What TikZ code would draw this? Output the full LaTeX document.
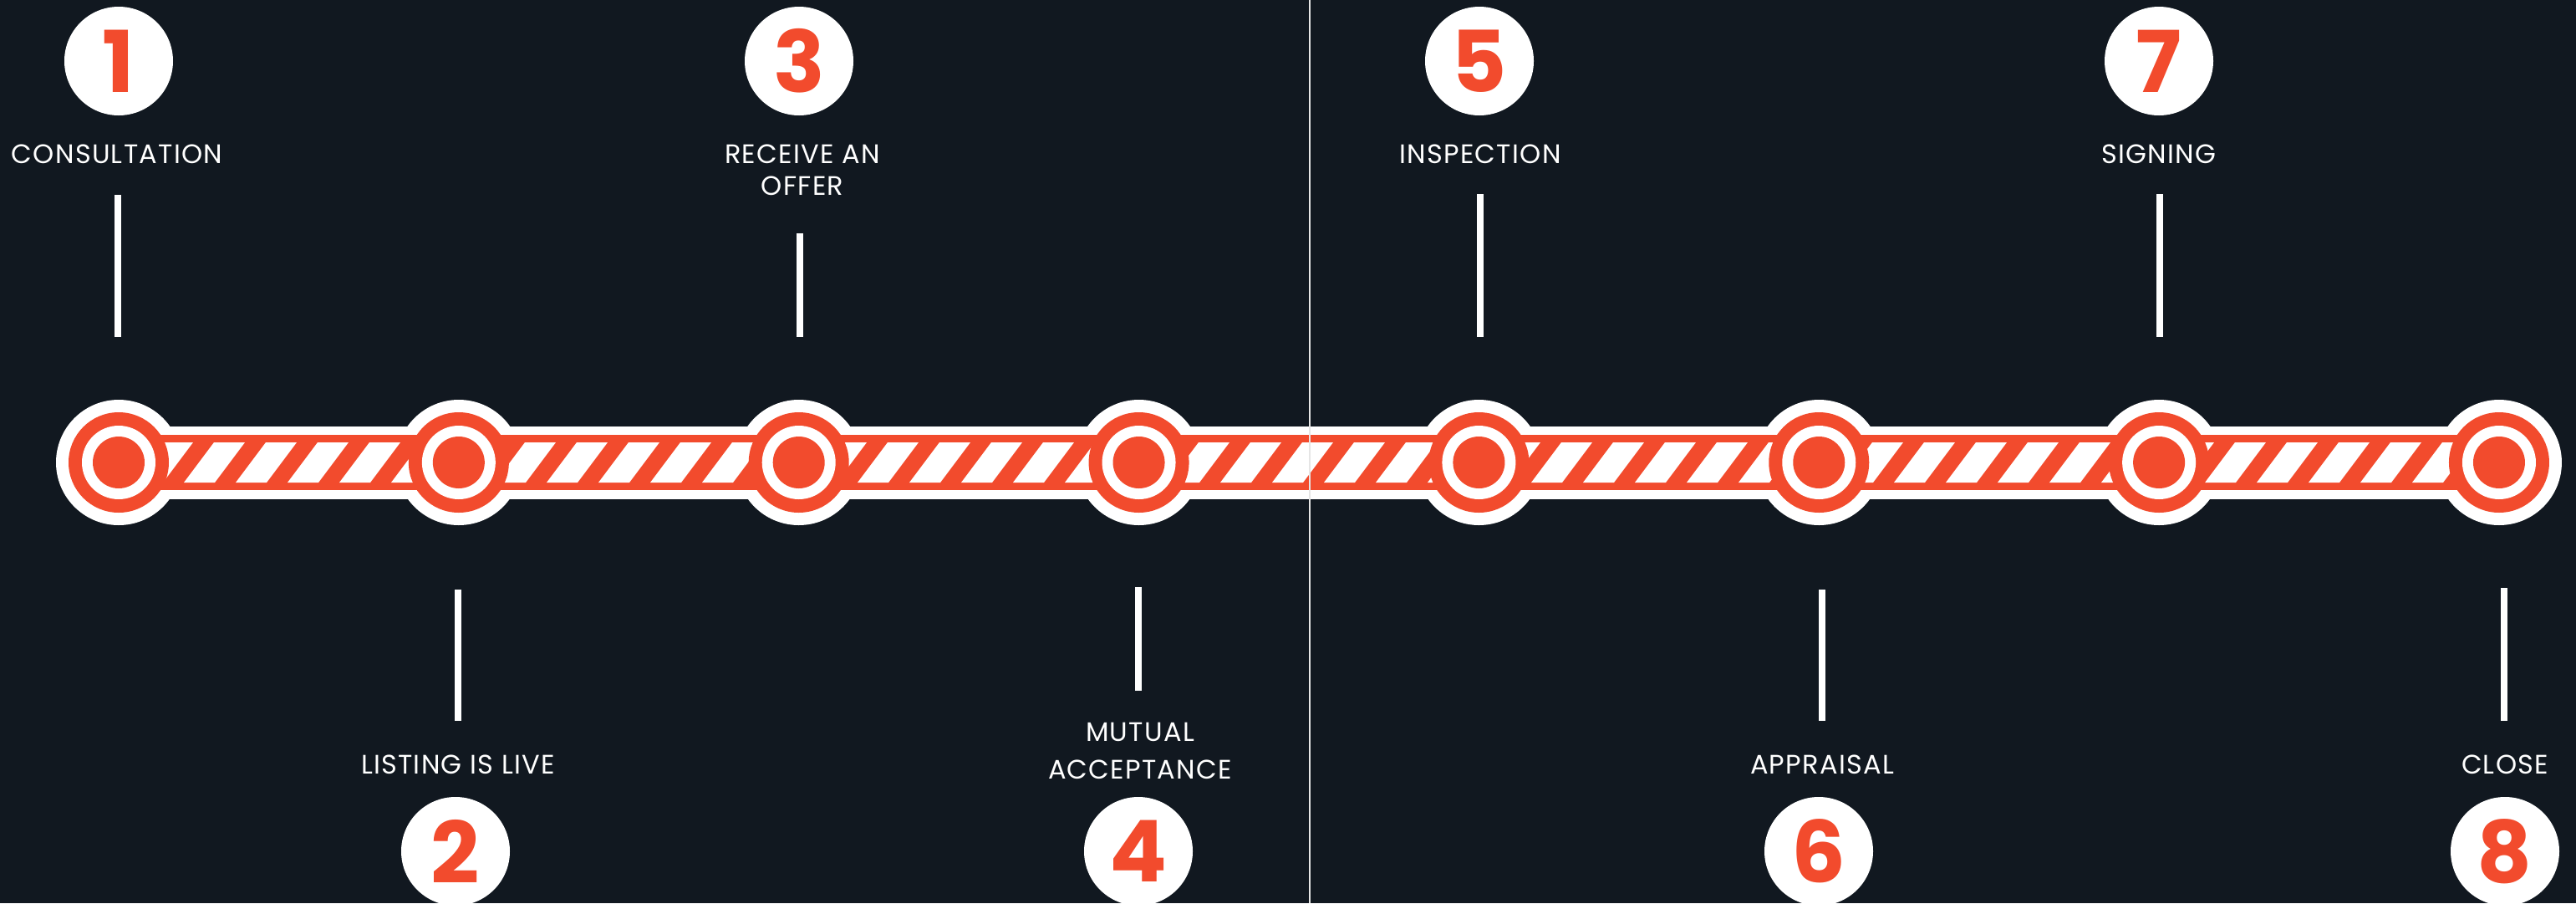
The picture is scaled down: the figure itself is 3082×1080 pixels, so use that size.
\documentclass[tikz,border=0pt]{standalone}
\usepackage{fontspec}
\setmainfont{Poppins}
\newfontfamily\lblfont{Poppins}[LetterSpace=4]
\definecolor{bg}{HTML}{111820}
\definecolor{tred}{HTML}{F24B2D}
\begin{document}
\begin{tikzpicture}[x=1pt,y=-1pt,
  badge/.style={circle,fill=white,minimum size=130pt,inner sep=0pt,text=tred,
    font=\fontsize{102}{102}\selectfont\bfseries},
  lbl/.style={text=white,anchor=base,inner sep=0pt,align=center,
    font=\lblfont\fontsize{32}{38}\selectfont},
  tick/.style={white,line width=8pt},
  divider/.style={white!80!gray,line width=2pt}]
\fill[bg] (0,0) rectangle (3082,1080);
\useasboundingbox (0,0) rectangle (3082,1080);
% stop positions
\foreach \i in {1,...,8}{\coordinate (n\i) at ({142+406.85*(\i-1)},553);}
% white outline of the track
\fill[white] ([yshift=43.5pt]n1) rectangle ([yshift=-43.5pt]n8);
\foreach \i in {1,...,8}{\fill[white] (n\i) circle[radius=75pt];}
% red band
\fill[tred] ([yshift=33pt]n1) rectangle ([yshift=-33pt]n8);
% white diagonal stripes
\begin{scope}
\clip ([yshift=24pt]n1) rectangle ([yshift=-24pt]n8);
\foreach \k in {-3,...,46}{
  \fill[white] ({282+62*\k},577) -- ({319+62*\k},577) -- ({355+62*\k},529) -- ({318+62*\k},529) -- cycle;}
\end{scope}
% stop markers
\foreach \i in {1,...,8}{
  \fill[tred] (n\i) circle[radius=60pt];
  \fill[white] (n\i) circle[radius=44pt];
  \fill[tred] (n\i) circle[radius=31pt];}
% number badges
\node[badge] (b1) at (142,73) {1};
\node[badge] (b3) at (956,73) {3};
\node[badge] (b5) at (1770,73) {5};
\node[badge] (b7) at (2583,73) {7};
\node[badge] (b2) at (545,1018) {2};
\node[badge] (b4) at (1362,1018) {4};
\node[badge] (b6) at (2176,1018) {6};
\node[badge] (b8) at (2997,1018) {8};
% labels
\node[lbl] (l1) at (140,195) {CONSULTATION};
\node[lbl] (l3) at (960,233) {RECEIVE AN\\[0pt]OFFER};
\node[lbl] (l5) at (1771,195) {INSPECTION};
\node[lbl] (l7) at (2583,195) {SIGNING};
\node[lbl] (l2) at (548,925) {LISTING IS LIVE};
\node[lbl] (l4) at (1364,931) {MUTUAL\\[7pt]ACCEPTANCE};
\node[lbl] (l6) at (2180,925) {APPRAISAL};
\node[lbl] (l8) at (2997,925) {CLOSE};
% ticks
\coordinate (t1a) at (141,233); \coordinate (t1b) at (141,403);
\coordinate (t3a) at (957,279); \coordinate (t3b) at (957,403);
\coordinate (t5a) at (1771,232); \coordinate (t5b) at (1771,403);
\coordinate (t7a) at (2584,232); \coordinate (t7b) at (2584,403);
\coordinate (t2a) at (548,705); \coordinate (t2b) at (548,862);
\coordinate (t4a) at (1362,702); \coordinate (t4b) at (1362,826);
\coordinate (t6a) at (2180,705); \coordinate (t6b) at (2180,862);
\coordinate (t8a) at (2996,703); \coordinate (t8b) at (2996,862);
\foreach \i in {1,...,8}{\draw[tick] (t\i a) -- (t\i b);}
% divider
\coordinate (da) at (1567,0); \coordinate (db) at (1567,1080);
\draw[divider] (da) -- (db);
\end{tikzpicture}
\end{document}
